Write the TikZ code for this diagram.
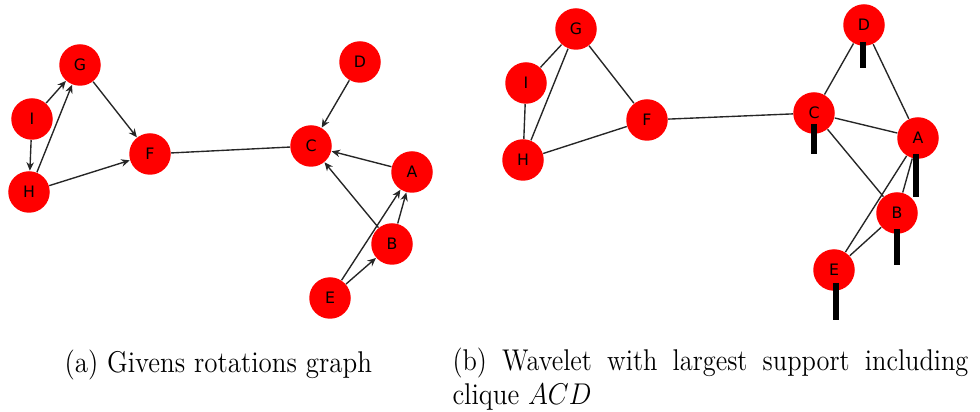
\documentclass[tikz,border=0pt]{standalone}
\usepackage{fontspec}
\setsansfont{DejaVu Sans}
\usetikzlibrary{arrows.meta}
\begin{document}
\begin{tikzpicture}[x=0.4pt,y=-0.4pt,
  vtx/.style={circle,fill=red,draw=none,minimum size=16.6pt,inner sep=0pt,
    font=\fontsize{6.3}{7}\sffamily\selectfont},
  edge/.style={draw=black!85,line width=0.55pt},
  arr/.style={edge,-{Stealth[length=3.4pt,width=3pt]}},
  wbar/.style={line width=2.4pt,black},
  captext/.style={anchor=base west,inner sep=0pt,font=\fontsize{12}{14}\selectfont}]
\useasboundingbox (0,0) rectangle (980,412);
% left graph
\node[vtx] (lG) at (80,65) {G};
\node[vtx] (lI) at (32,119) {I};
\node[vtx] (lH) at (29,192) {H};
\node[vtx] (lF) at (150,154) {F};
\node[vtx] (lD) at (360,62) {D};
\node[vtx] (lC) at (311,146) {C};
\node[vtx] (lA) at (412,172) {A};
\node[vtx] (lB) at (392,244) {B};
\node[vtx] (lE) at (330,298) {E};
\draw[arr] (lI) -- (lG);
\draw[arr] (lH) -- (lG);
\draw[arr] (lI) -- (lH);
\draw[arr] (lG) -- (lF);
\draw[arr] (lH) -- (lF);
\draw[edge] (lF) -- (lC);
\draw[arr] (lD) -- (lC);
\draw[arr] (lA) -- (lC);
\draw[arr] (lB) -- (lC);
\draw[arr] (lB) -- (lA);
\draw[arr] (lE) -- (lA);
\draw[arr] (lE) -- (lB);
% right graph
\node[vtx] (rG) at (576,29) {G};
\node[vtx] (rI) at (526,83) {I};
\node[vtx] (rH) at (523,160) {H};
\node[vtx] (rF) at (647,120) {F};
\node[vtx] (rD) at (864,25) {D};
\node[vtx] (rC) at (814,113) {C};
\node[vtx] (rA) at (918,138) {A};
\node[vtx] (rB) at (897,213) {B};
\node[vtx] (rE) at (834,270) {E};
\draw[edge] (rG) -- (rI);
\draw[edge] (rG) -- (rH);
\draw[edge] (rG) -- (rF);
\draw[edge] (rI) -- (rH);
\draw[edge] (rH) -- (rF);
\draw[edge] (rF) -- (rC);
\draw[edge] (rC) -- (rD);
\draw[edge] (rD) -- (rA);
\draw[edge] (rC) -- (rA);
\draw[edge] (rC) -- (rB);
\draw[edge] (rA) -- (rB);
\draw[edge] (rA) -- (rE);
\draw[edge] (rB) -- (rE);
% bars
\coordinate (dD1) at (863,42);  \coordinate (dD2) at (863,68);
\coordinate (dC1) at (814,124); \coordinate (dC2) at (814,154);
\coordinate (dA1) at (916,154); \coordinate (dA2) at (916,197);
\coordinate (dB1) at (897,229); \coordinate (dB2) at (897,265);
\coordinate (dE1) at (836,283); \coordinate (dE2) at (836,320);
\draw[wbar] (dD1) -- (dD2);
\draw[wbar] (dC1) -- (dC2);
\draw[wbar] (dA1) -- (dA2);
\draw[wbar] (dB1) -- (dB2);
\draw[wbar] (dE1) -- (dE2);
% captions
\node[captext] (capa) at (64,372) {\scalebox{0.9}[1]{(a) Givens rotations graph}};
\node[captext] (capb) at (452,370) {\scalebox{0.88}[1]{\hbox to 234.5pt{(b)\hfill Wavelet\hfill with\hfill largest\hfill support\hfill including}}};
\node[captext] (capb2) at (452,405) {\scalebox{0.9}[1]{clique $ACD$}};
\end{tikzpicture}
\end{document}
